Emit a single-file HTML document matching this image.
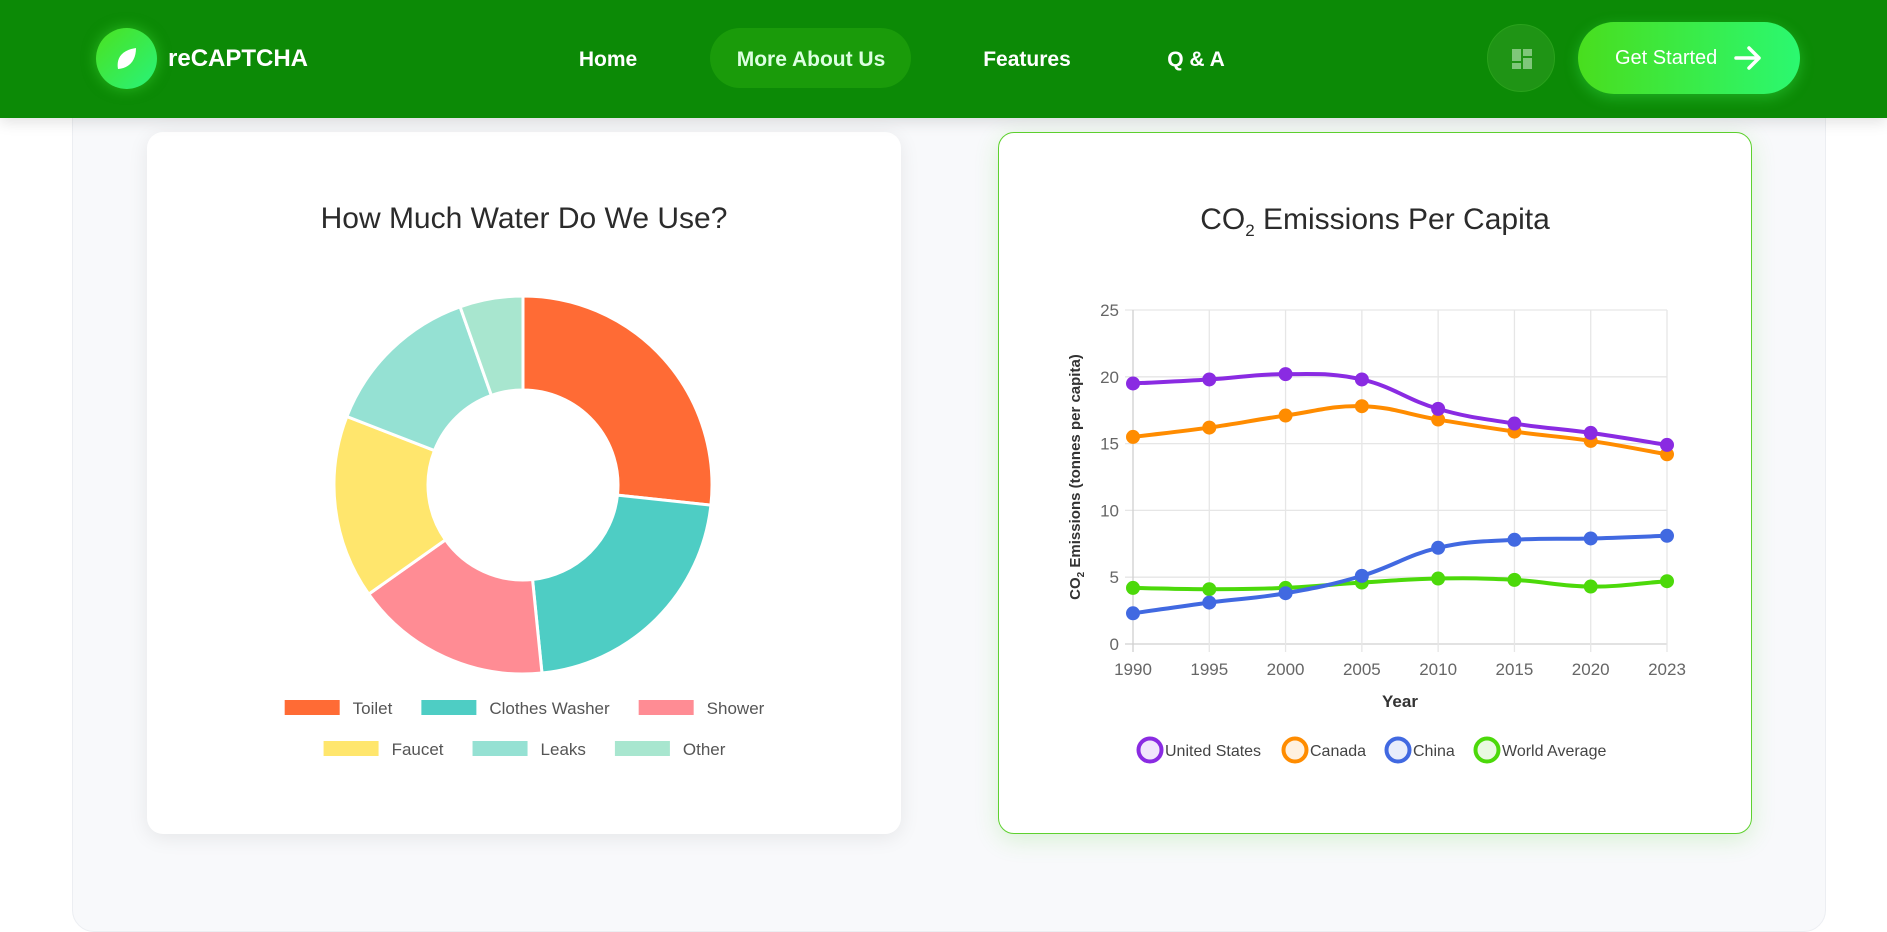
<!DOCTYPE html>
<html><head><meta charset="utf-8">
<style>
*{box-sizing:border-box;margin:0;padding:0}
body{width:1887px;height:931px;overflow:hidden;background:#fff;font-family:"Liberation Sans",sans-serif;position:relative}
.container{position:absolute;left:72px;top:90px;width:1754px;height:842px;background:#f8f9fb;border:1px solid #eceef2;border-radius:22px}
header{position:absolute;left:0;top:0;width:1887px;height:118px;background:#0c8a06;box-shadow:0 4px 14px rgba(0,0,0,.12);z-index:5}
.logo{position:absolute;left:96px;top:28px;width:61px;height:61px;border-radius:50%;background:linear-gradient(135deg,#4be21f,#28f37a);box-shadow:0 0 14px rgba(70,230,60,.5)}
.brand{position:absolute;left:168px;top:45px;color:#fff;font-weight:bold;font-size:24px}
.nav{position:absolute;top:48px;color:#fff;font-weight:bold;font-size:21px;transform:translateX(-50%)}
.pill{position:absolute;left:710px;top:28px;width:201px;height:60px;border-radius:30px;background:#1a9b0a}
.iconbtn{position:absolute;left:1487px;top:24px;width:68px;height:68px;border-radius:50%;background:#1f9415;border:1px solid #2aa21c}
.gs{position:absolute;left:1578px;top:22px;width:222px;height:72px;border-radius:36px;background:linear-gradient(90deg,#49de1e,#2bf870);box-shadow:0 4px 14px rgba(60,230,80,.4);color:#fff;font-size:20px}
.card{position:absolute;top:132px;width:754px;height:702px;background:#fff;border-radius:16px}
.c1{left:147px;box-shadow:0 4px 20px rgba(0,0,0,.08)}
.c2{left:998px;border:1px solid #5ed12f;box-shadow:0 6px 24px rgba(80,210,40,.18)}
.title{position:absolute;width:100%;text-align:center;top:70px;font-size:30px;color:#2b2b2b}
</style></head><body>
<div class="container"></div>
<header>
 <div class="logo">
  <svg width="61" height="61" viewBox="0 0 61 61"><path d="M22 41 C20 30 26 22 40 20 C40 33 33 40 22 41 Z" fill="#fff"/></svg>
 </div>
 <div class="brand">reCAPTCHA</div>
 <div class="pill"></div>
 <div class="nav" style="left:608px">Home</div>
 <div class="nav" style="left:811px;color:#dcffe0">More About Us</div>
 <div class="nav" style="left:1027px">Features</div>
 <div class="nav" style="left:1196px">Q &amp; A</div>
 <div class="iconbtn">
  <svg width="68" height="68" viewBox="0 0 68 68"><g fill="#7fc77a"><rect x="24" y="24" width="9" height="12"/><rect x="35" y="24" width="9" height="7"/><rect x="24" y="38" width="9" height="6"/><rect x="35" y="33" width="9" height="11"/></g></svg>
 </div>
 <div class="gs">
  <span style="position:absolute;left:37px;top:25px">Get Started</span>
  <svg style="position:absolute;left:155px;top:22px" width="30" height="28" viewBox="0 0 30 28"><path d="M3 14 H26 M16 4 L26 14 L16 24" stroke="#fff" stroke-width="3.5" fill="none" stroke-linecap="round" stroke-linejoin="round"/></svg>
 </div>
</header>

<div class="card c1">
 <div class="title">How Much Water Do We Use?</div>
 <svg id="donut" width="754" height="702" style="position:absolute;left:0;top:0"></svg>
</div>

<div class="card c2">
 <div class="title">CO<sub style="font-size:17px">2</sub> Emissions Per Capita</div>
 <svg id="line" width="754" height="702" style="position:absolute;left:0;top:0"></svg>
</div>

<script>
const NS='http://www.w3.org/2000/svg';
function mk(p,t,a){const e=document.createElementNS(NS,t);for(const k in a)e.setAttribute(k,a[k]);p.appendChild(e);return e;}

// ---------- Donut ----------
const waterLabels=['Toilet','Clothes Washer','Shower','Faucet','Leaks','Other'];
const waterValues=[26.7,21.7,16.8,15.7,13.7,5.4];
const waterColors=['#ff6b35','#4ecdc4','#ff8c94','#ffe66d','#95e1d3','#a8e6cf'];
(function(){
 const svg=document.getElementById('donut');
 const cx=523-147,cy=485-132,R=189,r=95;
 const tot=waterValues.reduce((a,b)=>a+b,0);
 let a0=-Math.PI/2;
 waterValues.forEach((v,i)=>{
  const a1=a0+v/tot*Math.PI*2;
  const p=(rad,a)=>[cx+rad*Math.cos(a),cy+rad*Math.sin(a)];
  const lg=(a1-a0)>Math.PI?1:0;
  const [x1,y1]=p(R,a0),[x2,y2]=p(R,a1),[x3,y3]=p(r,a1),[x4,y4]=p(r,a0);
  const s=mk(svg,'path',{d:`M${x1},${y1} A${R},${R} 0 ${lg} 1 ${x2},${y2} L${x3},${y3} A${r},${r} 0 ${lg} 0 ${x4},${y4} Z`,fill:waterColors[i],stroke:'#fff','stroke-width':3});
  
  
  a0=a1;
 });
 const rows=[[0,1,2],[3,4,5]];
 const rowY=[708-132,749-132];
 const ctx=document.createElement('canvas').getContext('2d');ctx.font='17px "Liberation Sans"';
 rows.forEach((row,ri)=>{
  const widths=row.map(i=>55+10+ctx.measureText(waterLabels[i]).width);
  const total=widths.reduce((a,b)=>a+b,0)+(row.length-1)*32;
  let x=cx-total/2;
  row.forEach((i,k)=>{
   const g=mk(svg,'g',{});
   
   
   mk(g,'rect',{x:x,y:rowY[ri]-8,width:55,height:15,fill:waterColors[i]});
   const t=mk(g,'text',{x:x+68,y:rowY[ri]+6,'font-size':17,fill:'#555','font-family':'Liberation Sans'});
   t.textContent=waterLabels[i];
   x+=widths[k]+32;
  });
 });
})();

// ---------- Line chart ----------
const years=['1990','1995','2000','2005','2010','2015','2020','2023'];
const usValues=[19.5,19.8,20.2,19.8,17.6,16.5,15.8,14.9];
const canadaValues=[15.5,16.2,17.1,17.8,16.8,15.9,15.2,14.2];
const chinaValues=[2.3,3.1,3.8,5.1,7.2,7.8,7.9,8.1];
const worldValues=[4.2,4.1,4.2,4.6,4.9,4.8,4.3,4.7];
const yTicks=[0,5,10,15,20,25];
const seriesNames=['United States','Canada','China','World Average'];
const seriesColors=['#8a2be2','#ff8c00','#4169e1','#4cd90a'];
const seriesFills=['#f1e6fc','#fff1e0','#e8edfb','#e9f9e1'];
(function(){
 const svg=document.getElementById('line');
 const ox=998,oy=132;
 const L=1132-ox,Rr=1666-ox,T=309-oy,B=643-oy;
 const yMax=25;
 const X=i=>L+(Rr-L)*i/(years.length-1);
 const Y=v=>B-(B-T)*v/yMax;
 const grid=mk(svg,'g',{});
 
 
 yTicks.forEach(v=>{
  mk(grid,'line',{x1:L-8,x2:Rr,y1:Y(v),y2:Y(v),stroke:v===0?'#d0d0d0':'#e6e6e6','stroke-width':1.3});
  const t=mk(svg,'text',{x:L-14,y:Y(v)+6,'text-anchor':'end','font-size':17,fill:'#666','font-family':'Liberation Sans'});
  
  
  t.textContent=v;
 });
 years.forEach((yr,i)=>{
  mk(grid,'line',{x1:X(i),x2:X(i),y1:T,y2:B+8,stroke:i===0?'#d0d0d0':'#e6e6e6','stroke-width':1.3});
  const t=mk(svg,'text',{x:X(i),y:B+31,'text-anchor':'middle','font-size':17,fill:'#666','font-family':'Liberation Sans'});
  
  
  t.textContent=yr;
 });
 const xt=mk(svg,'text',{x:(L+Rr)/2,y:700-oy+6,'text-anchor':'middle','font-size':17,'font-weight':'bold',fill:'#333','font-family':'Liberation Sans'});
 
 
 xt.textContent='Year';
 const yt=mk(svg,'text',{x:0,y:0,transform:`translate(${1079-ox},${(T+B)/2}) rotate(-90)`,'text-anchor':'middle','font-size':15,'font-weight':'bold',fill:'#333','font-family':'Liberation Sans'});
 
 
 yt.innerHTML='CO<tspan font-size="10" dy="4">2</tspan><tspan dy="-4"> Emissions (tonnes per capita)</tspan>';
 const all=[usValues,canadaValues,chinaValues,worldValues];
 const drawOrder=[3,2,1,0];
 drawOrder.forEach(si=>{
  const vals=all[si];
  const pts=vals.map((v,i)=>[X(i),Y(v)]);
  const t=0.4;
  let d=`M${pts[0][0]},${pts[0][1]}`;
  const cps=pts.map((p,i)=>{
   const pr=pts[Math.max(0,i-1)],nx=pts[Math.min(pts.length-1,i+1)];
   const d01=Math.hypot(p[0]-pr[0],p[1]-pr[1]),d12=Math.hypot(nx[0]-p[0],nx[1]-p[1]);
   let fa=d01/(d01+d12)||0,fb=d12/(d01+d12)||0;fa*=t;fb*=t;
   return {p:[p[0]-fa*(nx[0]-pr[0]),p[1]-fa*(nx[1]-pr[1])],n:[p[0]+fb*(nx[0]-pr[0]),p[1]+fb*(nx[1]-pr[1])]};
  });
  for(let i=1;i<pts.length;i++){
   d+=` C${cps[i-1].n[0]},${cps[i-1].n[1]} ${cps[i].p[0]},${cps[i].p[1]} ${pts[i][0]},${pts[i][1]}`;
  }
  const path=mk(svg,'path',{d:d,fill:'none',stroke:seriesColors[si],'stroke-width':4});
  
  
  pts.forEach((p,i)=>{
   const c=mk(svg,'circle',{cx:p[0],cy:p[1],r:5.5,fill:seriesColors[si],stroke:seriesColors[si],'stroke-width':3});
   
   
  });
 });
 const legX=[1149,1294,1397,1486];
 seriesNames.forEach((n,i)=>{
  const g=mk(svg,'g',{});
  
  
  const cx=legX[i]-ox,cy=749-oy;
  mk(g,'circle',{cx:cx,cy:cy,r:11.5,fill:seriesFills[i],stroke:seriesColors[i],'stroke-width':4});
  const t=mk(g,'text',{x:cx+15,y:cy+6,'font-size':16,fill:'#444','font-family':'Liberation Sans'});
  t.textContent=n;
 });
})();
</script>
</body></html>
